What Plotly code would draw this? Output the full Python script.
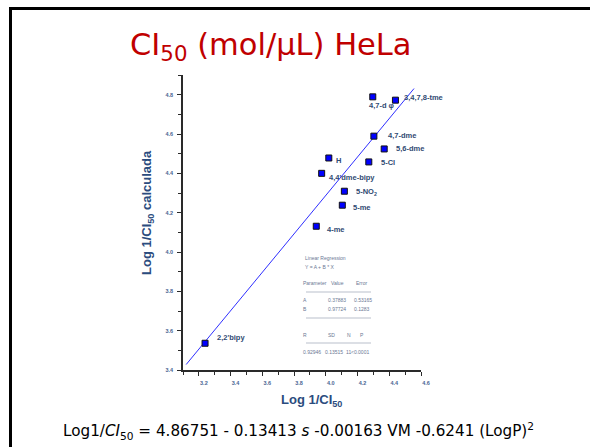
import plotly.graph_objects as go

# ---------------- data ----------------
compounds = ["3,4,7,8-tme", "4,7-d φ", "4,7-dme", "5,6-dme", "H", "5-Cl",
             "4,4'dme-bipy", "5-NO<sub>2</sub>", "5-me", "4-me", "2,2'bipy"]
log_ic50_exp = [4.439, 4.296, 4.303, 4.368, 4.019, 4.271, 3.974, 4.117, 4.104, 3.940, 3.239]
log_ic50_calc = [4.772, 4.789, 4.589, 4.524, 4.478, 4.458, 4.400, 4.309, 4.238, 4.131, 3.536]

fit_A = 0.37883
fit_B = 0.97724
fit_x = [3.12, 4.556]

x_ticks = [3.2, 3.4, 3.6, 3.8, 4.0, 4.2, 4.4, 4.6]
y_ticks = [3.4, 3.6, 3.8, 4.0, 4.2, 4.4, 4.6, 4.8]

reg_header = ["Parameter", "Value", "Error"]
reg_params = ["A", "B"]
reg_values = ["0.37883", "0.97724"]
reg_errors = ["0.53165", "0.1283"]
stat_names = ["R", "SD", "N", "P"]
stat_values = ["0.92946", "0.13515", "11", "<0.0001"]

# label offsets in pixels (dx, dy) relative to each point
label_dx = [7, -6, 12, 10, 5, 10, 5, 10, 9, 9, 10]
label_dy = [3, -9, 1, 0, -3, -1, -4, -1, -2, -3, 6]

W, H = 590, 447
L, R, T, B = 183, 169, 75, 77
PW, PH = W - L - R, H - T - B


def px_x(p):
    return (p - L) / PW


def px_y(p):
    return (H - B - p) / PH


fig = go.Figure()

fit_y = [fit_A + fit_B * v for v in fit_x]
fig.add_trace(go.Scatter(x=fit_x, y=fit_y, mode="lines",
                         line=dict(color="#2f2fff", width=1), hoverinfo="skip",
                         showlegend=False))
fig.add_trace(go.Scatter(x=log_ic50_exp, y=log_ic50_calc, mode="markers",
                         marker=dict(symbol="square", size=6, color="#0000ff",
                                     line=dict(color="#111111", width=1)),
                         showlegend=False))

label_color = "#2f4a72"
ann = []
for name, xv, yv, dx, dy in zip(compounds, log_ic50_exp, log_ic50_calc, label_dx, label_dy):
    ann.append(dict(x=xv, y=yv, xref="x", yref="y", text=name, showarrow=False,
                    xanchor="left", yanchor="middle", xshift=dx, yshift=dy,
                    font=dict(family="Liberation Sans, Arial", size=7.5,
                              color=label_color, weight="bold")))

# title
ann.append(dict(x=px_x(271), y=px_y(46), xref="paper", yref="paper",
                text="CI<sub>50</sub> (mol/μL) HeLa", showarrow=False,
                xanchor="center", yanchor="middle",
                font=dict(family="DejaVu Sans", size=30.5, color="#c00000")))
# equation
ann.append(dict(x=px_x(298.5), y=px_y(431), xref="paper", yref="paper",
                text="Log1/<i>CI</i><sub>50</sub> = 4.86751 - 0.13413 <i>s</i> -0.00163 VM -0.6241 (LogP)<sup>2</sup>",
                showarrow=False, xanchor="center", yanchor="middle",
                font=dict(family="DejaVu Sans", size=15.2, color="#000000")))
# axis titles
title_color = "#2b4c7e"
ann.append(dict(x=px_x(311), y=px_y(401), xref="paper", yref="paper",
                text="Log 1/CI<sub>50</sub>", showarrow=False,
                xanchor="center", yanchor="middle",
                font=dict(family="Liberation Sans, Arial", size=13,
                          color=title_color, weight="bold")))
ann.append(dict(x=px_x(147), y=px_y(213), xref="paper", yref="paper",
                text="Log 1/CI<sub>50</sub> calculada", showarrow=False, textangle=-90,
                xanchor="center", yanchor="middle",
                font=dict(family="Liberation Sans, Arial", size=13,
                          color=title_color, weight="bold")))

# regression box
box_font = dict(family="Liberation Sans, Arial", size=5, color="#6b7894")


def box_text(txt, left, ypix):
    ann.append(dict(x=px_x(left), y=px_y(ypix), xref="paper", yref="paper",
                    text=txt, showarrow=False, xanchor="left", yanchor="middle",
                    font=box_font))


box_text("Linear Regression", 303, 258)
box_text("Y = A + B * X", 303, 267)
for t, lx in zip(reg_header, [300.5, 329, 354]):
    box_text(t, lx, 283)
for i, (p, v, e) in enumerate(zip(reg_params, reg_values, reg_errors)):
    yy = 300 + i * 9
    box_text(p, 301, yy)
    box_text(v, 325.5, yy)
    box_text(e, 351.5, yy)
for t, lx in zip(stat_names, [301, 326, 345, 358]):
    box_text(t, lx, 335)
for t, lx in zip(stat_values, [300.5, 322.5, 343.5, 349]):
    box_text(t, lx, 352)

shapes = []
for yy in [292, 318, 343]:
    shapes.append(dict(type="line", xref="paper", yref="paper",
                       x0=px_x(306), x1=px_x(371), y0=px_y(yy), y1=px_y(yy),
                       line=dict(color="#8a94a8", width=0.6)))
# slide frame
shapes.append(dict(type="rect", xref="paper", yref="paper",
                   x0=px_x(10.5), x1=px_x(640), y0=px_y(8.5), y1=px_y(500),
                   line=dict(color="#000000", width=3), layer="below"))

axis_common = dict(showline=True, linecolor="#2a2a2a", linewidth=1.5,
                   ticks="outside", ticklen=4, tickwidth=1, tickcolor="#2a2a2a",
                   showgrid=False, zeroline=False, mirror=False,
                   tickfont=dict(family="Liberation Sans, Arial", size=5.5,
                                 color="#4a6593", weight="bold"))

fig.update_layout(
    width=W, height=H,
    margin=dict(l=L, r=R, t=T, b=B),
    paper_bgcolor="white", plot_bgcolor="white",
    xaxis=dict(range=[3.1, 4.6], tickvals=x_ticks,
               ticktext=[f"{v:.1f}" for v in x_ticks],
               minor=dict(dtick=0.1, tick0=3.1, ticks="outside", ticklen=3,
                          tickcolor="#2a2a2a"),
               ticklabelshift=5, ticklabelstandoff=3, **axis_common),
    yaxis=dict(range=[3.4, 4.9], tickvals=y_ticks,
               ticktext=[f"{v:.1f}" for v in y_ticks],
               minor=dict(dtick=0.1, tick0=3.4, ticks="outside", ticklen=3,
                          tickcolor="#2a2a2a"),
               ticklabelstandoff=3, **axis_common),
    annotations=ann, shapes=shapes,
)

fig.write_html("out.html")
